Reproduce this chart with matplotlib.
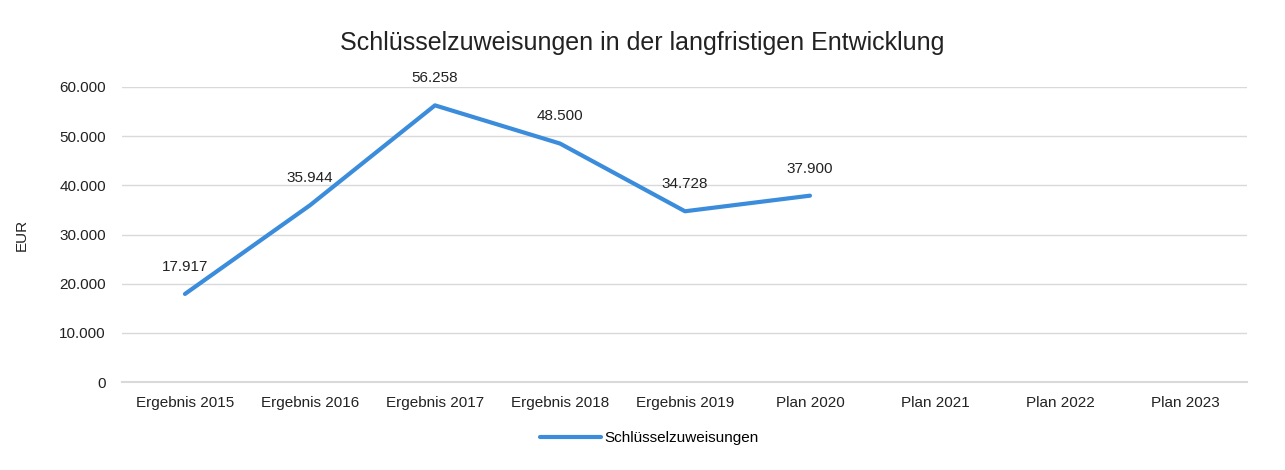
import numpy as np
import matplotlib.pyplot as plt
from matplotlib.ticker import FuncFormatter

plt.rcParams['font.family'] = ['Liberation Sans', 'DejaVu Sans']

categories = ["Ergebnis 2015", "Ergebnis 2016", "Ergebnis 2017", "Ergebnis 2018",
              "Ergebnis 2019", "Plan 2020", "Plan 2021", "Plan 2022", "Plan 2023"]
values = [17917, 35944, 56258, 48500, 34728, 37900]
series_name = "Schlüsselzuweisungen"

blue = "#3b8ddc"
text_col = "#222222"

fig = plt.figure(figsize=(12.85, 4.7), dpi=100)
ax = fig.add_axes([0.0953, 0.187, 0.8755, 0.628])

x = np.arange(len(values))
ax.plot(x, values, color=blue, lw=3, solid_capstyle='round', label=series_name)

for xi, v in zip(x, values):
    lbl = f"{v:,}".replace(",", ".")
    ax.annotate(lbl, (xi, v), xytext=(0, 19.5), textcoords='offset points',
                ha='center', va='center', fontsize=11, color=text_col)

ax.set_xlim(-0.5, len(categories) - 0.5)
ax.set_ylim(0, 60000)
ax.set_xticks(np.arange(len(categories)))
ax.set_xticklabels(categories)
ax.set_yticks(np.arange(0, 60001, 10000))
ax.yaxis.set_major_formatter(FuncFormatter(lambda v, p: f"{int(v):,}".replace(",", ".")))
ax.tick_params(length=0, labelsize=11, colors=text_col)
ax.tick_params(axis='x', pad=10)
ax.tick_params(axis='y', pad=12)
ax.grid(axis='y', color='#d9d9d9', lw=1)
ax.axhline(0, color='#d9d9d9', lw=1.5, clip_on=False, zorder=0)
ax.set_axisbelow(True)
for s in ax.spines.values():
    s.set_visible(False)

ax.set_ylabel("EUR", fontsize=11, color=text_col, labelpad=22)
fig.suptitle("Schlüsselzuweisungen in der langfristigen Entwicklung",
             fontsize=18, color=text_col, y=0.935)

fig.legend(loc='center', bbox_to_anchor=(0.505, 0.068), frameon=False,
           fontsize=11, handlelength=4, handletextpad=0.2)

fig.savefig("out.png", dpi=100)
